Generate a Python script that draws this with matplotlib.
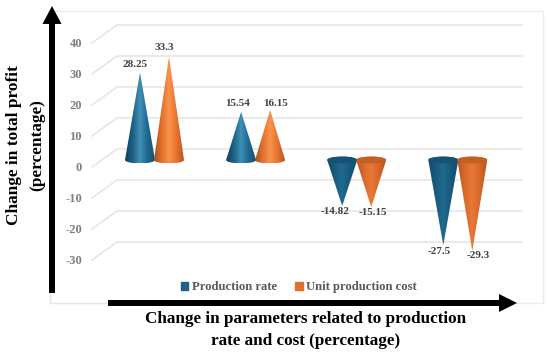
import numpy as np
import matplotlib
matplotlib.use("Agg")
import matplotlib.pyplot as plt
from matplotlib.patches import Polygon, FancyArrow, Patch
from matplotlib.colors import LinearSegmentedColormap

production_rate = [28.25, 15.54, -14.82, -27.5]
unit_cost = [33.3, 16.15, -15.15, -29.3]
production_labels = ["28.25", "15.54", "-14.82", "-27.5"]
cost_labels = ["33.3", "16.15", "-15.15", "-29.3"]
ticks = [40, 30, 20, 10, 0, -10, -20, -30]
group_names = ["Production rate", "Unit production cost"]

W, H = 550, 356
PX_X0, PX_XU = 140.0, 101.1   # pixel of first group / pixels per group
PX_Y0, PX_YU = 160.0, 3.1     # pixel of zero / pixels per unit

plt.rcParams["font.family"] = ["Liberation Serif", "DejaVu Serif"]
plt.rcParams["font.weight"] = "bold"
fig = plt.figure(figsize=(W / 100, H / 100), dpi=100)
ax = fig.add_axes([0, 0, 1, 1])
ax.set_xlim(-PX_X0 / PX_XU, (W - PX_X0) / PX_XU)
ax.set_ylim((PX_Y0 - H) / PX_YU, PX_Y0 / PX_YU)
ax.axis("off")

# helpers converting a pixel distance into data units
dx = lambda p: p / PX_XU
dy = lambda p: p / PX_YU
fx = lambda p: (p - PX_X0) / PX_XU
fy = lambda p: (PX_Y0 - p) / PX_YU

GRID = "#e4e4e4"
for v in ticks:
    ax.plot([fx(92), fx(117), fx(522)], [v + dy(-7), v + dy(11), v + dy(11)],
            color=GRID, lw=1.1, zorder=1, solid_joinstyle="miter")
    ax.text(fx(82), v + dy(-8), str(v), ha="right", va="center",
            fontsize=9, color="#7f7f7f", zorder=3)

# chart frame
ax.plot([fx(50), fx(543), fx(543), fx(108)], [fy(11), fy(11), fy(303), fy(303)],
        color="#ececec", lw=1, zorder=0)
ax.plot([fx(50), fx(50), fx(108)], [fy(11), fy(303), fy(303)],
        color="#e4e4e4", lw=1, zorder=0)

blue_up = LinearSegmentedColormap.from_list(
    "b", ["#133f5c", "#1b5f84", "#3f8fb6", "#1e6890", "#174f70"])
orange_up = LinearSegmentedColormap.from_list(
    "o", ["#a84e1c", "#e0702c", "#f9934c", "#e8732d", "#b8561f"])
blue_down = LinearSegmentedColormap.from_list(
    "bd", ["#144a6a", "#175a7e", "#1f6a90", "#175a7e", "#144a6a"])
orange_down = LinearSegmentedColormap.from_list(
    "od", ["#b3551f", "#d9682a", "#e87a38", "#d9682a", "#b3551f"])
gradient = np.linspace(0, 1, 256).reshape(1, -1)


def cone(xc, value, cmaps, cap, z):
    hw, hh = dx(15), dy(3.4)
    cmap = cmaps[0] if value >= 0 else cmaps[1]
    if value >= 0:
        t = np.linspace(np.pi, 2 * np.pi, 40)
    else:
        t = np.linspace(np.pi, 0, 40)
    arc = np.column_stack([xc + hw * np.cos(t), hh * np.sin(t)])
    verts = np.vstack([arc, [xc, value]])
    poly = Polygon(verts, closed=True, fc="none", ec="none",
                   transform=ax.transData)
    ax.add_patch(poly)
    lo, hi = min(0, value) - hh, max(0, value) + hh
    im = ax.imshow(gradient, cmap=cmap, extent=[xc - hw, xc + hw, lo, hi],
                   aspect="auto", zorder=z, interpolation="bilinear")
    im.set_clip_path(poly)
    if value < 0:
        t3 = np.linspace(0, 2 * np.pi, 60)
        ax.fill(xc + hw * np.cos(t3), hh * np.sin(t3), color=cap, lw=0,
                zorder=z + 0.1)


BLUE_OFF, ORANGE_OFF = 0.0, dx(29)
label_px_prod = [(-5, -8), (-4, -8), (-7, 6), (-4, 6)]
label_px_cost = [(-5, -9), (5, -6), (2, 6), (6, 5)]
for i, (a, b) in enumerate(zip(production_rate, unit_cost)):
    cone(i + BLUE_OFF, a, (blue_up, blue_down), "#155273", 4 + i * 0.01)
    cone(i + ORANGE_OFF, b, (orange_up, orange_down), "#c35f22", 4.5 + i * 0.01)
    for xc, val, lab, off in ((i + BLUE_OFF, a, production_labels[i], label_px_prod[i]),
                              (i + ORANGE_OFF, b, cost_labels[i], label_px_cost[i])):
        ax.text(xc + dx(off[0]), val + dy(-off[1]), lab, ha="center", va="center",
                fontsize=8, color="#404040", zorder=6)

ax.set_xlim(-PX_X0 / PX_XU, (W - PX_X0) / PX_XU)
ax.set_ylim((PX_Y0 - H) / PX_YU, PX_Y0 / PX_YU)

# axis arrows, in figure pixels
tr = fig.dpi_scale_trans
px = 1 / 100
ax.add_patch(FancyArrow(52 * px, (H - 293) * px, 0, 287 * px, width=6 * px,
                        head_width=19 * px, head_length=18 * px,
                        length_includes_head=True, color="black", lw=0,
                        transform=tr, zorder=8))
ax.add_patch(FancyArrow(108 * px, (H - 303) * px, 409 * px, 0, width=6 * px,
                        head_width=18 * px, head_length=18 * px,
                        length_includes_head=True, color="black", lw=0,
                        transform=tr, zorder=8))

# axis titles
ax.text(fx(14), fy(145), "Change in total profit", rotation=90, ha="center",
        va="center", fontsize=12.4, color="black")
ax.text(fx(37), fy(145), "(percentage)", rotation=90, ha="center",
        va="center", fontsize=12.4, color="black")
ax.text(fx(306), fy(319), "Change in parameters related to production",
        ha="center", va="center", fontsize=12.3, color="black")
ax.text(fx(306), fy(341), "rate and cost (percentage)",
        ha="center", va="center", fontsize=12.3, color="black")

# legend
handles = [Patch(color="#1d6287", label=group_names[0]),
           Patch(color="#e0702c", label=group_names[1])]
ax.legend(handles=handles, ncol=2, frameon=False, loc="center",
          bbox_to_anchor=(299 / W, 1 - 287 / H), fontsize=9.1,
          handlelength=0.6, handleheight=0.6, handletextpad=0.3,
          columnspacing=1.4, labelcolor="#595959")

fig.savefig("out.png", dpi=100, facecolor="white")
